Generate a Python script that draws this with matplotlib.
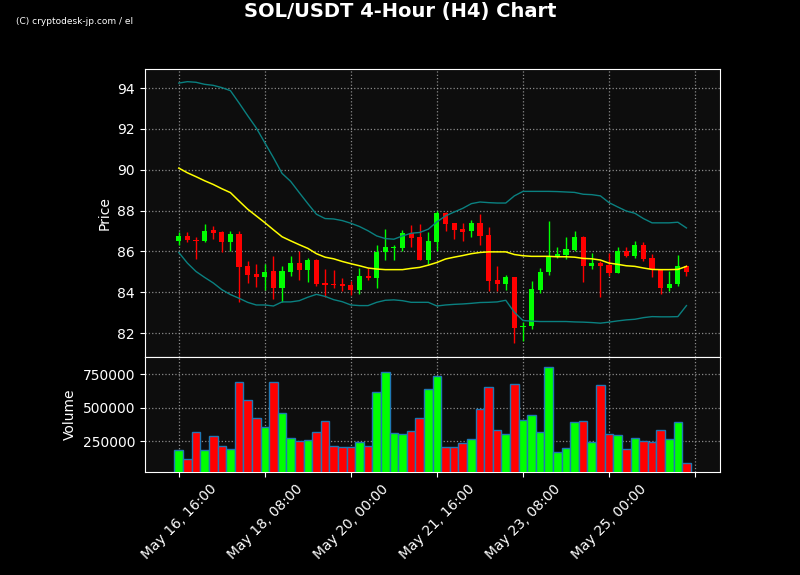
import numpy as np
import matplotlib
matplotlib.use("Agg")
import matplotlib.pyplot as plt
from matplotlib.ticker import FixedLocator, StrMethodFormatter

# %%
# 4h candles
opens = [86.50, 86.75, 86.55, 86.50, 87.04, 86.94, 86.46, 86.85, 85.28, 84.89,
         84.76, 85.04, 84.23, 85.01, 85.43, 85.11, 85.58, 84.46, 84.41, 84.41,
         84.36, 84.11, 84.80, 84.70, 85.98, 86.19, 86.16, 86.89, 86.70, 85.58,
         86.46, 87.87, 87.38, 87.09, 86.99, 87.38, 86.80, 84.60, 84.41, 84.73,
         82.29, 82.33, 84.13, 85.01, 85.77, 85.84, 86.07, 86.70, 85.30, 85.43,
         85.33, 84.96, 86.03, 85.77, 86.31, 85.67, 85.09, 84.21, 84.41, 85.27]
closes = [86.75, 86.55, 86.50, 86.99, 86.91, 86.47, 86.85, 85.25, 84.86, 84.76,
          84.99, 84.23, 85.04, 85.43, 85.09, 85.58, 84.41, 84.36, 84.34, 84.33,
          84.11, 84.80, 84.70, 85.98, 86.21, 86.21, 86.89, 86.65, 85.58, 86.50,
          87.87, 87.33, 87.04, 86.96, 87.38, 86.75, 84.57, 84.41, 84.73, 82.26,
          82.36, 84.16, 84.99, 85.76, 85.87, 86.11, 86.70, 85.30, 85.43, 85.30,
          84.96, 86.03, 85.79, 86.31, 85.63, 85.12, 84.21, 84.41, 85.28, 85.01]
highs = [86.96, 86.93, 86.73, 87.32, 87.25, 87.02, 86.98, 86.98, 85.51, 85.37,
         85.37, 85.80, 85.27, 85.80, 86.02, 85.67, 85.63, 85.14, 85.07, 84.68,
         84.57, 85.17, 85.17, 86.31, 87.12, 86.34, 87.07, 87.28, 87.32, 86.93,
         87.98, 87.93, 87.38, 87.41, 87.54, 87.85, 87.20, 85.30, 84.86, 84.73,
         82.54, 84.57, 85.17, 87.50, 86.24, 86.73, 87.01, 86.75, 85.90, 85.54,
         85.92, 86.20, 86.24, 86.52, 86.46, 85.89, 85.09, 85.02, 85.85, 85.35]
lows = [86.34, 86.47, 85.61, 86.47, 86.63, 85.98, 86.03, 83.51, 84.44, 84.28,
        84.11, 83.67, 83.51, 84.81, 84.62, 84.49, 84.29, 83.79, 84.20, 84.05,
        83.89, 83.90, 84.62, 84.23, 85.56, 85.56, 86.03, 86.24, 85.58, 85.38,
        86.02, 87.01, 86.63, 86.52, 86.73, 86.31, 84.05, 84.05, 84.11, 81.54,
        81.63, 82.21, 83.95, 84.83, 85.66, 85.61, 86.03, 84.49, 85.12, 83.76,
        84.81, 84.96, 85.71, 85.67, 85.54, 84.73, 83.92, 84.05, 84.33, 84.81]
volumes = [182500, 115000, 315000, 180000, 285000, 210000, 187500, 690000, 555000, 420000,
           352500, 690000, 457500, 270000, 250000, 255000, 315000, 400000, 210000, 202500,
           202500, 240000, 210000, 615000, 765000, 307500, 300000, 325000, 420000, 637500,
           735000, 202500, 202500, 232500, 262500, 487500, 652500, 330000, 300000, 675000,
           405000, 442500, 315000, 802500, 165000, 195000, 390000, 397500, 240000, 667500,
           300000, 292500, 187500, 270000, 247500, 240000, 330000, 262500, 390000, 82500]

# SMA20 and Bollinger bands (computed upstream on a longer history)
sma = [90.08, 89.85, 89.66, 89.46, 89.28, 89.07, 88.88, 88.47, 88.07, 87.74,
       87.41, 87.06, 86.72, 86.52, 86.33, 86.15, 85.89, 85.72, 85.64, 85.51,
       85.40, 85.30, 85.19, 85.14, 85.11, 85.11, 85.11, 85.17, 85.22, 85.33,
       85.46, 85.63, 85.72, 85.80, 85.89, 85.95, 85.98, 85.98, 85.98, 85.85,
       85.79, 85.76, 85.76, 85.76, 85.74, 85.74, 85.72, 85.66, 85.64, 85.58,
       85.43, 85.37, 85.30, 85.27, 85.19, 85.12, 85.11, 85.11, 85.12, 85.27]
bb_upper = [94.24, 94.31, 94.28, 94.18, 94.13, 94.02, 93.87, 93.27, 92.65, 92.05,
            91.32, 90.59, 89.82, 89.43, 88.88, 88.34, 87.82, 87.61, 87.59, 87.51,
            87.38, 87.22, 87.01, 86.76, 86.63, 86.60, 86.76, 86.89, 86.93, 87.09,
            87.45, 87.74, 87.93, 88.11, 88.34, 88.42, 88.39, 88.37, 88.37, 88.72,
            88.94, 88.94, 88.94, 88.94, 88.93, 88.91, 88.89, 88.80, 88.78, 88.72,
            88.39, 88.18, 87.98, 87.87, 87.61, 87.40, 87.40, 87.40, 87.43, 87.15]
bb_lower = [85.95, 85.43, 85.02, 84.73, 84.46, 84.13, 83.89, 83.71, 83.51, 83.38,
            83.38, 83.33, 83.53, 83.53, 83.59, 83.76, 83.90, 83.80, 83.64, 83.54,
            83.38, 83.35, 83.35, 83.51, 83.61, 83.63, 83.59, 83.51, 83.51, 83.51,
            83.33, 83.38, 83.41, 83.43, 83.46, 83.50, 83.51, 83.53, 83.61, 83.02,
            82.62, 82.59, 82.57, 82.57, 82.57, 82.57, 82.55, 82.54, 82.52, 82.49,
            82.54, 82.60, 82.65, 82.68, 82.76, 82.81, 82.80, 82.80, 82.81, 83.35]

tick_labels = ['May 16, 16:00', 'May 18, 08:00', 'May 20, 00:00',
               'May 21, 16:00', 'May 23, 08:00', 'May 25, 00:00', '']

# %%
up_col = '#00ff00'
down_col = '#ff0000'
bg = '#0d0d0d'

x = np.arange(len(opens))
o = np.array(opens)
c = np.array(closes)
is_up = c >= o
colors = np.where(is_up, up_col, down_col)

fig = plt.figure(figsize=(8, 5.75), dpi=100, facecolor='black')
ax = fig.add_axes([0.181, 0.379, 0.719, 0.501])
axv = fig.add_axes([0.181, 0.179, 0.719, 0.200], sharex=ax)

for a in (ax, axv):
    a.set_facecolor(bg)
    for s in a.spines.values():
        s.set_color('white')
    a.tick_params(colors='white', labelsize=10)
    a.grid(True, linestyle=':', color='#aaaaaa', linewidth=0.9, alpha=0.8)
    a.set_axisbelow(True)

# candles
ax.vlines(x, lows, highs, colors=colors, linewidth=1, zorder=2)
body_h = np.abs(c - o)
body_h = np.where(body_h < 0.04, 0.04, body_h)
ax.bar(x, body_h, bottom=np.minimum(o, c), width=0.6, color=colors, zorder=3)

ax.plot(x, sma, color='yellow', linewidth=1.1, zorder=4)
ax.plot(x, bb_upper, color='#0a8080', linewidth=1, zorder=4)
ax.plot(x, bb_lower, color='#0a8080', linewidth=1, zorder=4)

ax.set_ylim(80.83, 94.93)
ax.set_yticks([82, 84, 86, 88, 90, 92, 94])
ax.set_ylabel('Price', color='white', fontsize=10)
ax.tick_params(axis='x', labelbottom=False, length=0)

# volume
axv.bar(x, volumes, width=1.0, color=colors, edgecolor='#1f77b4', linewidth=1, zorder=3)
axv.set_ylim(17500, 880000)
axv.set_yticks([250000, 500000, 750000])
axv.yaxis.set_major_formatter(StrMethodFormatter('{x:.0f}'))
axv.set_ylabel('Volume', color='white', fontsize=10)

axv.set_xlim(-3.95, 62.9)
axv.xaxis.set_major_locator(FixedLocator(np.arange(0, 61, 10)))
axv.set_xticklabels(tick_labels, rotation=45, ha='center')

fig.suptitle('SOL/USDT 4-Hour (H4) Chart', color='white', fontsize=14,
             fontweight='bold', x=0.5, y=0.997)
fig.text(0.02, 0.962, '(C) cryptodesk-jp.com / el', color='white', fontsize=6.5,
         family='Liberation Sans Narrow', va='center')

fig.savefig('out.png', dpi=100, facecolor='black')
